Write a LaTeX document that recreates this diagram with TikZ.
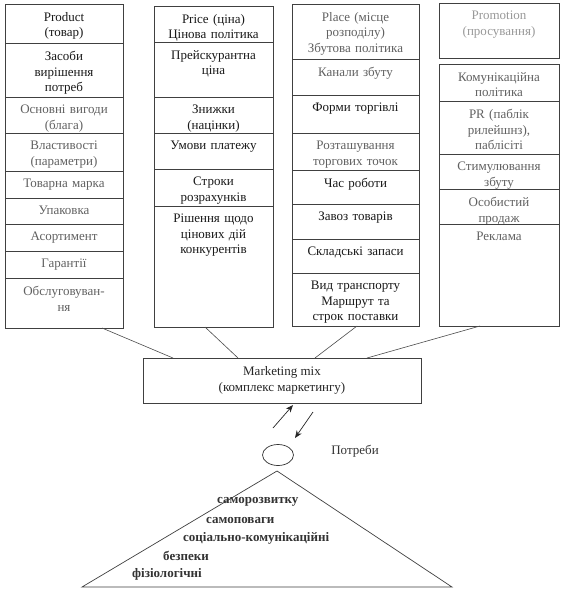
\documentclass[tikz,border=0pt]{standalone}
\usepackage{fontspec}
\setmainfont{Liberation Serif}
\usetikzlibrary{arrows.meta,shapes.geometric}
% [opt]{name}{xl}{xr}{ytop}{ybot}{text}
\newcommand{\mkcell}[7][]{%
  \node[cellbox, minimum width={#4-#3}, minimum height={#6-#5}] (#2) at ({(#3+#4)/2},{(#5+#6)/2}) {};
  \node[celltext,#1] (#2t) at ([yshift=-8pt]#2.north) {#7};}
\begin{document}
\begin{tikzpicture}[x=1pt,y=-1pt,
  cellbox/.style={draw=black!75, line width=0.6pt, inner sep=0pt, outer sep=0pt},
  celltext/.style={anchor=north, inner sep=0pt, align=center, text width=114pt,
    font=\fontsize{13}{15.5}\selectfont, text=black!90},
  lite/.style={text=black!62},
  faint/.style={text=black!40},
  conn/.style={draw=black!70, line width=0.6pt},
  arr/.style={draw=black!85, line width=0.7pt, -{Stealth[length=7.5pt,width=6pt]}},
  tri/.style={draw=black!75, line width=0.7pt},
  lvl/.style={anchor=west, inner sep=0pt, font=\fontsize{13}{15}\selectfont\bfseries, text=black!80}]
\useasboundingbox[fill=white] (0,0) rectangle (567,596);

% Product column
\mkcell{c1a}{5}{123}{4}{43}{Product\\(товар)}
\mkcell{c1b}{5}{123}{43}{97}{Засоби\\вирішення\\потреб}
\mkcell[lite]{c1c}{5}{123}{97}{133}{Основні вигоди\\(блага)}
\mkcell[lite]{c1d}{5}{123}{133}{171}{Властивості\\(параметри)}
\mkcell[lite]{c1e}{5}{123}{171}{198}{Товарна марка}
\mkcell[lite]{c1f}{5}{123}{198}{224}{Упаковка}
\mkcell[lite]{c1g}{5}{123}{224}{251}{Асортимент}
\mkcell[lite]{c1h}{5}{123}{251}{278}{Гарантії}
\mkcell[lite]{c1i}{5}{123}{278}{328}{Обслуговуван-\\ня}

% Price column
\mkcell{c2a}{154}{273}{6}{42}{Price (ціна)\\Цінова політика}
\mkcell{c2b}{154}{273}{42}{97}{Прейскурантна\\ціна}
\mkcell{c2c}{154}{273}{97}{133}{Знижки\\(націнки)}
\mkcell{c2d}{154}{273}{133}{169}{Умови платежу}
\mkcell{c2e}{154}{273}{169}{206}{Строки\\розрахунків}
\mkcell{c2f}{154}{273}{206}{327}{Рішення щодо\\цінових дій\\конкурентів}

% Place column
\mkcell[lite]{c3a}{292}{419}{4}{59}{Place (місце\\розподілу)\\Збутова політика}
\mkcell[lite]{c3b}{292}{419}{59}{95}{Канали збуту}
\mkcell{c3c}{292}{419}{95}{133}{Форми торгівлі}
\mkcell[lite]{c3d}{292}{419}{133}{170}{Розташування\\торгових точок}
\mkcell{c3e}{292}{419}{170}{204}{Час роботи}
\mkcell{c3f}{292}{419}{204}{239}{Завоз товарів}
\mkcell{c3g}{292}{419}{239}{273}{Складські запаси}
\mkcell{c3h}{292}{419}{273}{326}{Вид транспорту\\Маршрут та\\строк поставки}

% Promotion column
\mkcell[faint]{c4h}{439}{559}{3}{58}{Promotion\\(просування)}
\mkcell[lite]{c4a}{439}{559}{64}{101}{Комунікаційна\\політика}
\mkcell[lite]{c4b}{439}{559}{101}{154}{PR (паблік\\рилейшнз),\\паблісіті}
\mkcell[lite]{c4c}{439}{559}{154}{189}{Стимулювання\\збуту}
\mkcell[lite]{c4d}{439}{559}{189}{224}{Особистий\\продаж}
\mkcell[lite]{c4e}{439}{559}{224}{326}{Реклама}

% Marketing mix
\node[cellbox, minimum width=278pt, minimum height=45pt, align=center,
  font=\fontsize{13}{16}\selectfont, text=black!85] (mm) at (282,380.5)
  {Marketing mix\\(комплекс маркетингу)};

\draw[conn] (c1i.south -| 102,0) -- (mm.north -| 173,0);
\draw[conn] (c2f.south -| 205,0) -- (mm.north -| 238,0);
\draw[conn] (c3h.south -| 357,0) -- (mm.north -| 315,0);
\draw[conn] (c4e.south -| 480,0) -- (mm.north -| 367,0);

% needs
\node[draw=black!80, line width=0.7pt, ellipse, minimum width=31pt, minimum height=21pt, inner sep=0pt] (need) at (278,455) {};
\node[font=\fontsize{13}{15}\selectfont, text=black!80, inner sep=0pt] (potr) at (355,451) {Потреби};

\coordinate (u1) at (273,428); \coordinate (u2) at (293,405);
\coordinate (d1) at (313,412); \coordinate (d2) at (295,438);
\draw[arr] (u1) -- (u2);
\draw[arr] (d1) -- (d2);

% pyramid
\coordinate (tA) at (277,471);
\coordinate (tL) at (82,587);
\coordinate (tR) at (452,587);
\draw[tri] (tL) -- (tA) -- (tR) -- cycle;

\node[lvl] (l5) at (217,502) {саморозвитку};
\node[lvl] (l4) at (206,520) {самоповаги};
\node[lvl] (l3) at (183,538) {соціально-комунікаційні};
\node[lvl] (l2) at (163,556) {безпеки};
\node[lvl] (l1) at (132,574) {фізіологічні};
\end{tikzpicture}
\end{document}
